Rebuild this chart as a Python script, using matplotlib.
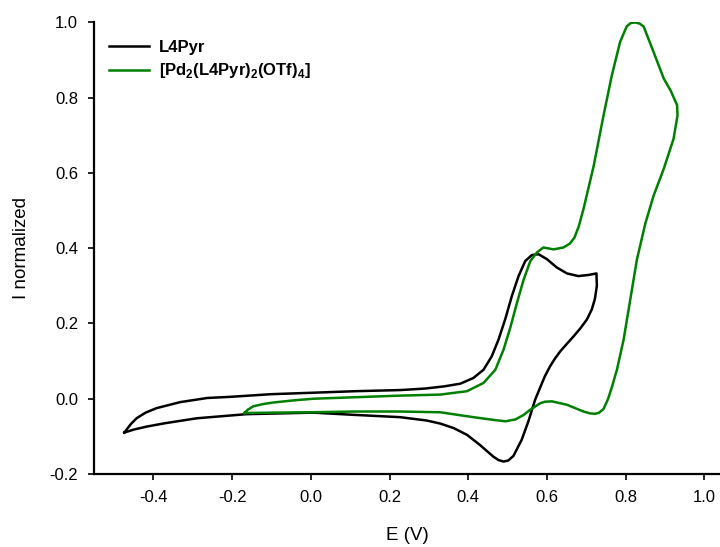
import matplotlib
matplotlib.use('Agg')
import matplotlib.pyplot as plt

plt.rcParams['font.family'] = ['Liberation Sans', 'DejaVu Sans']
plt.rcParams['mathtext.fontset'] = 'custom'
plt.rcParams['mathtext.rm'] = 'Liberation Sans'
plt.rcParams['mathtext.bf'] = 'Liberation Sans:bold'

# L4Pyr cycle: start at left vertex, forward (anodic) sweep, then back
l4_E = [-0.474, -0.458, -0.443, -0.420, -0.392, -0.332, -0.263, -0.205, -0.102,
        0.007, 0.112, 0.227, 0.290, 0.340, 0.380, 0.413, 0.439, 0.460, 0.477, 0.494,
        0.511, 0.528, 0.545, 0.562, 0.579, 0.600, 0.625, 0.651, 0.680, 0.706,
        0.726,
        0.727, 0.722, 0.714, 0.702, 0.685, 0.668, 0.650, 0.634, 0.620, 0.608,
        0.595, 0.583, 0.570, 0.553, 0.536, 0.515, 0.502, 0.490, 0.477, 0.464,
        0.430, 0.397, 0.363, 0.329, 0.295, 0.227, 0.112, 0.006, -0.163, -0.290, -0.370,
        -0.417, -0.450, -0.474]
l4_I = [-0.090, -0.068, -0.052, -0.037, -0.025, -0.009, 0.002, 0.005, 0.012,
        0.016, 0.020, 0.023, 0.027, 0.033, 0.040, 0.055, 0.077, 0.113, 0.157, 0.211,
        0.273, 0.326, 0.366, 0.382, 0.384, 0.371, 0.349, 0.333, 0.326, 0.329,
        0.333,
        0.300, 0.265, 0.237, 0.211, 0.187, 0.166, 0.145, 0.126, 0.106, 0.086,
        0.060, 0.030, -0.003, -0.060, -0.109, -0.152, -0.164, -0.167, -0.163, -0.154,
        -0.123, -0.096, -0.078, -0.066, -0.058, -0.049, -0.043, -0.037, -0.041, -0.052, -0.065,
        -0.074, -0.082, -0.090]

# [Pd2(L4Pyr)2(OTf)4] cycle
pd_E = [-0.169, -0.160, -0.146, -0.120, -0.095, -0.040, 0.007, 0.219, 0.329,
        0.397, 0.439, 0.469, 0.490, 0.507, 0.524, 0.541, 0.558, 0.575, 0.591,
        0.617, 0.642, 0.658, 0.670, 0.681, 0.693, 0.719, 0.744, 0.765, 0.786, 0.803, 0.814,
        0.825, 0.836, 0.846, 0.871, 0.897, 0.915, 0.931,
        0.932, 0.922, 0.897, 0.871, 0.850, 0.840, 0.829, 0.812, 0.795, 0.778, 0.765,
        0.755, 0.744, 0.733, 0.723, 0.710, 0.693, 0.651, 0.613, 0.595, 0.583,
        0.558, 0.541, 0.520, 0.495, 0.470, 0.413, 0.329, 0.227, 0.112, 0.0,
        -0.100, -0.169]
pd_I = [-0.038, -0.029, -0.020, -0.014, -0.010, -0.004, 0.000, 0.008, 0.011,
        0.020, 0.042, 0.077, 0.131, 0.189, 0.255, 0.317, 0.366, 0.389, 0.402,
        0.397, 0.402, 0.412, 0.428, 0.458, 0.504, 0.619, 0.753, 0.859, 0.948, 0.990, 0.999,
        1.000, 0.997, 0.989, 0.922, 0.851, 0.818, 0.780,
        0.753, 0.691, 0.611, 0.539, 0.465, 0.420, 0.371, 0.264, 0.157, 0.077, 0.030,
        -0.002, -0.027, -0.037, -0.040, -0.039, -0.034, -0.016, -0.007, -0.008, -0.012,
        -0.029, -0.043, -0.055, -0.060, -0.057, -0.049, -0.036, -0.034, -0.034, -0.036,
        -0.037, -0.038]

fig = plt.figure(figsize=(7.2, 5.47), dpi=100)
ax = fig.add_axes([0.1306, 0.1335, 0.8694, 0.8254])

ax.plot(l4_E, l4_I, color='black', lw=1.8, label='L4Pyr')
ax.plot(pd_E, pd_I, color='#008000', lw=1.8,
        label=r'[Pd$_\mathbf{2}$(L4Pyr)$_\mathbf{2}$(OTf)$_\mathbf{4}$]')

ax.set_xlim(-0.551, 1.04)
ax.set_ylim(-0.2, 1.0)
ax.set_xticks([-0.4, -0.2, 0.0, 0.2, 0.4, 0.6, 0.8, 1.0])
ax.set_yticks([-0.2, 0.0, 0.2, 0.4, 0.6, 0.8, 1.0])
ax.xaxis.set_major_formatter(matplotlib.ticker.FormatStrFormatter('%.1f'))
ax.yaxis.set_major_formatter(matplotlib.ticker.FormatStrFormatter('%.1f'))

for s in ['top', 'right']:
    ax.spines[s].set_visible(False)
for s in ['left', 'bottom']:
    ax.spines[s].set_linewidth(1.6)
ax.tick_params(direction='out', length=4.5, width=1.2, labelsize=12, pad=7)

ax.set_xlabel('E (V)', fontsize=13.5, labelpad=16)
ax.set_ylabel('I normalized', fontsize=13.5, labelpad=14)

ax.legend(loc='upper left', bbox_to_anchor=(0.0, 0.995), frameon=False,
          prop={'weight': 'bold', 'size': 12}, handlelength=2.4,
          handletextpad=0.6, labelspacing=0.4)

fig.savefig('out.png', dpi=100)
